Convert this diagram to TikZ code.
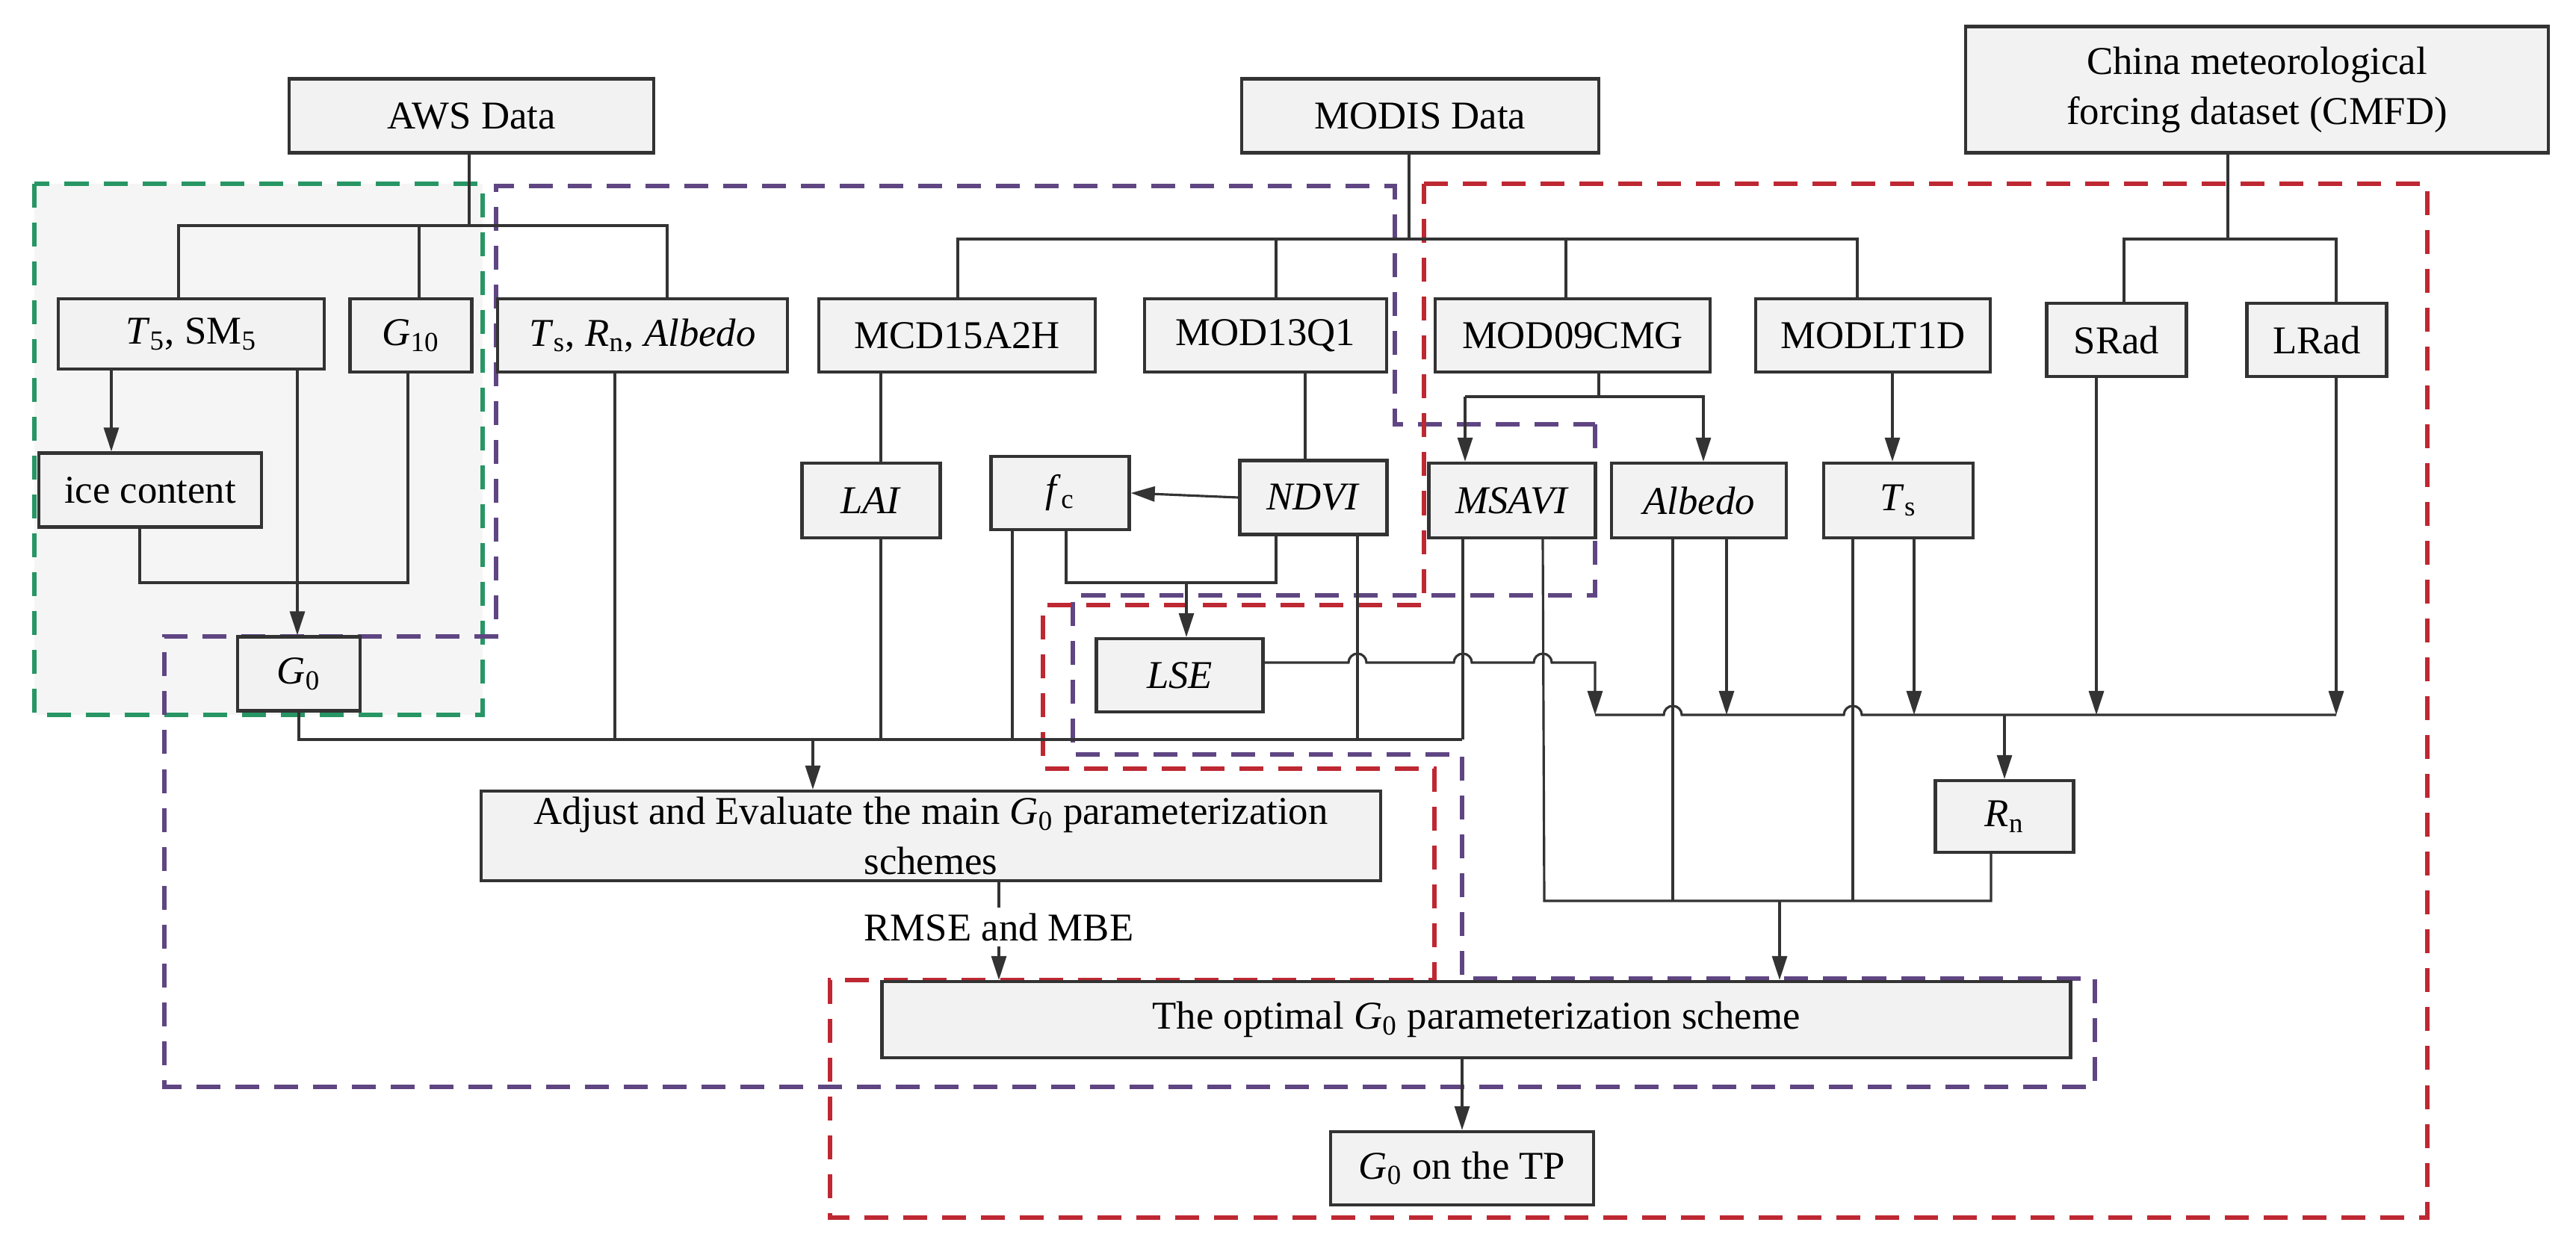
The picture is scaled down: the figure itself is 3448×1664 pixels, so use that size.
\documentclass[tikz,border=0pt]{standalone}
\usepackage{fontspec}
\setmainfont{Liberation Serif}
\usetikzlibrary{arrows.meta,calc}
\definecolor{pur}{RGB}{95,70,130}
\definecolor{red2}{RGB}{190,40,50}
\definecolor{grn}{RGB}{40,150,100}
\newcommand{\sub}[1]{\textsubscript{#1}}
\begin{document}
\begin{tikzpicture}[x=0.01cm,y=-0.01cm,
  box/.style={draw=black!80,line width=1.2pt,fill=gray!10,inner sep=0pt,align=center,font=\fontsize{15}{19}\selectfont},
  ln/.style={draw=black!80,line width=0.9pt},
  ar/.style={ln,-{Triangle[length=0.32cm,width=0.2cm]}},
  dsh/.style={line width=1.6pt,dash pattern=on 0.32cm off 0.2cm}]
\useasboundingbox (0,0) rectangle (3448,1664);
% regions
\fill[gray!8] (46,246) rectangle (646,957);
\draw[dsh,grn] (46,246) rectangle (646,957);
\draw[dsh,pur] (2135,568) -- (2135,797) -- (1436,797) -- (1436,1010) -- (1957,1010) -- (1957,1310) -- (2804,1310) -- (2804,1455) -- (220,1455) -- (220,852) -- (664,852) -- (664,249) -- (1867,249) -- (1867,568) -- cycle;
\draw[dsh,red2] (1906,246) -- (3249,246) -- (3249,1630) -- (1111,1630) -- (1111,1312) -- (1920,1312) -- (1920,1029) -- (1396,1029) -- (1396,810) -- (1906,810) -- cycle;
% nodes
\node[box,minimum width=4.87cm,minimum height=0.99cm] (aws) at (631,155) {AWS Data};
\node[box,minimum width=4.78cm,minimum height=0.99cm] (modis) at (1901,155) {MODIS Data};
\node[box,minimum width=7.80cm,minimum height=1.69cm] (cmfd) at (3021,120) {China meteorological\\forcing dataset (CMFD)};
\node[box,minimum width=3.56cm,minimum height=0.94cm] (t5) at (256,447) {\textit{T}\sub{5}, SM\sub{5}};
\node[box,minimum width=1.63cm,minimum height=0.98cm] (g10) at (550,449) {\textit{G}\sub{10}};
\node[box,minimum width=3.88cm,minimum height=0.98cm] (tsrn) at (860,449) {\textit{T}\sub{s}, \textit{R}\sub{n}, \textit{Albedo}};
\node[box,minimum width=3.70cm,minimum height=0.98cm] (mcd) at (1281,449) {MCD15A2H};
\node[box,minimum width=3.24cm,minimum height=0.98cm] (mod13) at (1694,449) {MOD13Q1};
\node[box,minimum width=3.68cm,minimum height=0.98cm] (mod09) at (2105,449) {MOD09CMG};
\node[box,minimum width=3.14cm,minimum height=0.98cm] (modlt) at (2507,449) {MODLT1D};
\node[box,minimum width=1.87cm,minimum height=0.98cm] (srad) at (2833,455) {SRad};
\node[box,minimum width=1.87cm,minimum height=0.98cm] (lrad) at (3101,455) {LRad};
\node[box,minimum width=2.98cm,minimum height=0.99cm] (ice) at (201,656) {ice content};
\node[box,minimum width=1.85cm,minimum height=1.0cm] (lai) at (1166,670) {\textit{LAI}};
\node[box,minimum width=1.85cm,minimum height=0.98cm] (fc) at (1419,660) {\textit{f}\sub{c}};
\node[box,minimum width=1.97cm,minimum height=0.99cm] (ndvi) at (1758,666) {\textit{NDVI}};
\node[box,minimum width=2.23cm,minimum height=1.0cm] (msavi) at (2024,670) {\textit{MSAVI}};
\node[box,minimum width=2.34cm,minimum height=1.0cm] (alb) at (2274,670) {\textit{Albedo}};
\node[box,minimum width=2.0cm,minimum height=1.0cm] (ts) at (2541,670) {\textit{T}\sub{s}};
\node[box,minimum width=1.64cm,minimum height=0.99cm] (g0) at (400,902) {\textit{G}\sub{0}};
\node[box,minimum width=2.23cm,minimum height=0.98cm] (lse) at (1579,904) {\textit{LSE}};
\node[box,minimum width=12.03cm,minimum height=1.20cm] (adj) at (1246,1119) {Adjust and Evaluate the main \textit{G}\sub{0} parameterization\\schemes};
\node[box,minimum width=1.85cm,minimum height=0.96cm] (rn) at (2683,1093) {\textit{R}\sub{n}};
\node[box,minimum width=15.9cm,minimum height=1.02cm] (opt) at (1976,1365) {The optimal \textit{G}\sub{0} parameterization scheme};
\node[box,minimum width=3.52cm,minimum height=0.98cm] (tp) at (1957,1564) {\textit{G}\sub{0} on the TP};
\node[font=\fontsize{15}{19}\selectfont,inner sep=2pt] (rmse) at (1337,1241) {RMSE and MBE};
% coordinates
\coordinate (awsb) at (628,302);
\coordinate (modb) at (1886,320);
\coordinate (cmb) at (2982,320);
\coordinate (bus1) at (396,990);
\coordinate (bus2) at (2067,1206);
\coordinate (bus3) at (2135,957);
% AWS tree
\draw[ln] (aws.south -| awsb) -- (awsb);
\draw[ln] (239,0 |- t5.north) -- (239,302) -- (893,302) -- (893,0 |- tsrn.north);
\draw[ln] (561,302) -- (561,0 |- g10.north);
% MODIS tree
\draw[ln] (modis.south -| modb) -- (modb);
\draw[ln] (1282,0 |- mcd.north) -- (1282,320) -- (2486,320) -- (2486,0 |- modlt.north);
\draw[ln] (1708,320) -- (1708,0 |- mod13.north);
\draw[ln] (2096,320) -- (2096,0 |- mod09.north);
% CMFD tree
\draw[ln] (cmfd.south -| cmb) -- (cmb);
\draw[ln] (2843,0 |- srad.north) -- (2843,320) -- (3127,320) -- (3127,0 |- lrad.north);
% left group
\draw[ar] (149,0 |- t5.south) -- (149,0 |- ice.north);
\draw[ar] (398,0 |- t5.south) -- (398,0 |- g0.north);
\draw[ln] (187,0 |- ice.south) -- (187,780) -- (546,780) -- (546,0 |- g10.south);
% bottom-left bus
\draw[ln] (g0.south) -- (400,990) -- (1957,990);
\draw[ln] (823,0 |- tsrn.south) -- (823,990);
\draw[ln] (1179,0 |- mcd.south) -- (1179,0 |- lai.north);
\draw[ln] (1179,0 |- lai.south) -- (1179,990);
\draw[ln] (1355,0 |- fc.south) -- (1355,990);
\draw[ln] (1817,0 |- ndvi.south) -- (1817,990);
\draw[ln] (1958,0 |- msavi.south) -- (1958,990);
\draw[ar] (1088,990) -- (1088,0 |- adj.north);
% MODIS branches
\draw[ln] (1747,0 |- mod13.south) -- (1747,0 |- ndvi.north);
\draw[ar] (ndvi.west) -- (fc.east);
\draw[ln] (1427,0 |- fc.south) -- (1427,780) -- (1708,780) -- (1708,0 |- ndvi.south);
\draw[ar] (1588,780) -- (1588,0 |- lse.north);
\draw[ln] (2140,0 |- mod09.south) -- (2140,531);
\draw[ar] (1961,531) -- (1961,0 |- msavi.north);
\draw[ar] (1961,531) -- (2280,531) -- (2280,0 |- alb.north);
\draw[ar] (2533,0 |- modlt.south) -- (2533,0 |- ts.north);
% LSE line with jumps
\draw[ar] (lse.east |- 0,887) -- (1805,887) arc[start angle=180,end angle=0,radius=0.12cm] -- (1946,887) arc[start angle=180,end angle=0,radius=0.12cm] -- (2053,887) arc[start angle=180,end angle=0,radius=0.12cm] -- (2135,887) -- (bus3);
% upper right bus
\draw[ln] (bus3) -- (2227,957) arc[start angle=180,end angle=0,radius=0.12cm] -- (2468,957) arc[start angle=180,end angle=0,radius=0.12cm] -- (3127,957);
\draw[ar] (2311,0 |- alb.south) -- (2311,957);
\draw[ar] (2562,0 |- ts.south) -- (2562,957);
\draw[ar] (2806,0 |- srad.south) -- (2806,957);
\draw[ar] (3127,0 |- lrad.south) -- (3127,957);
\draw[ar] (2683,957) -- (rn.north);
% lower right bus
\draw[ln] (2065,0 |- msavi.south) -- (bus2) -- (2665,1206) -- (2665,0 |- rn.south);
\draw[ln] (2239,0 |- alb.south) -- (2239,1206);
\draw[ln] (2480,0 |- ts.south) -- (2480,1206);
\draw[ar] (2382,1206) -- (2382,0 |- opt.north);
% bottom flow
\draw[ln] (1337,0 |- adj.south) -- (rmse.north);
\draw[ar] (rmse.south) -- (1337,0 |- opt.north);
\draw[ar] (opt.south -| tp.north) -- (tp.north);
\end{tikzpicture}
\end{document}
